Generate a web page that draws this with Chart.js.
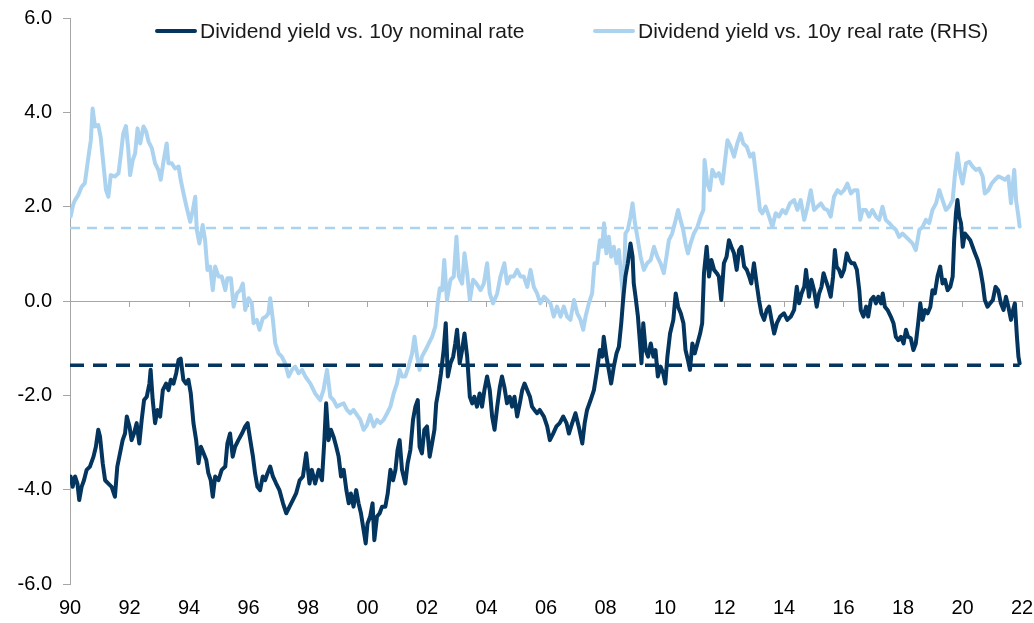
<!DOCTYPE html>
<html>
<head>
<meta charset="utf-8">
<script src="https://cdn.jsdelivr.net/npm/chart.js@4.4.1/dist/chart.umd.min.js"></script>
<style>
  body { margin: 0; background: #fff; }
  #wrap { position: relative; width: 1034px; height: 623px; }
  .leg { position: absolute; top: 18px; height: 26px; display: flex; align-items: center;
         font-family: "Liberation Sans", Arial, sans-serif; font-size: 21px; color: #1a1a1a; white-space: nowrap; }
  .leg i { display: inline-block; width: 42px; height: 4px; border-radius: 2px; margin-right: 3px; }
</style>
</head>
<body>
<div id="wrap">
  <canvas id="myChart"></canvas>
  <div class="leg" style="left:155px"><i style="background:#03355f"></i>Dividend yield vs. 10y nominal rate</div>
  <div class="leg" style="left:593px"><i style="background:#abd3f0"></i>Dividend yield vs. 10y real rate (RHS)</div>
</div>
<script>
// years (decimal) and values
const nomYears = [
1990.02,1990.09,1990.17,1990.25,1990.31,1990.39,1990.47,1990.56,1990.67,1990.79,1990.87,1990.95,1991.01,1991.10,1991.18,1991.29,1991.40,1991.51,1991.59,1991.68,
1991.77,1991.85,1991.91,1992.00,1992.07,1992.15,1992.24,1992.33,1992.41,1992.49,1992.58,1992.67,1992.71,1992.78,1992.86,1992.94,1993.03,1993.12,1993.23,1993.31,
1993.39,1993.48,1993.57,1993.65,1993.72,1993.81,1993.90,1993.98,1994.06,1994.15,1994.24,1994.32,1994.40,1994.49,1994.58,1994.65,1994.73,1994.80,1994.88,1994.99,
1995.10,1995.22,1995.29,1995.38,1995.47,1995.55,1995.66,1995.78,1995.89,1995.97,1996.06,1996.15,1996.22,1996.30,1996.39,1996.48,1996.56,1996.64,1996.73,1996.82,
1996.93,1997.04,1997.16,1997.27,1997.38,1997.49,1997.60,1997.72,1997.83,1997.94,
1998.05,1998.13,1998.24,1998.36,1998.47,1998.55,1998.61,1998.69,1998.77,1998.86,1998.95,1999.03,1999.11,1999.20,1999.29,1999.37,1999.44,1999.53,1999.62,1999.70,
1999.78,1999.87,1999.94,2000.00,2000.09,2000.17,2000.23,2000.32,2000.41,2000.49,2000.60,2000.68,2000.77,2000.86,2000.94,2001.01,2001.08,2001.16,2001.27,2001.35,
2001.44,2001.53,2001.61,2001.69,2001.75,2001.83,2001.91,2002.00,2002.09,2002.17,2002.25,2002.31,2002.39,2002.47,2002.56,2002.63,2002.70,2002.79,2002.88,2002.95,
2003.01,2003.10,2003.18,2003.26,2003.35,2003.44,2003.52,2003.59,2003.68,2003.77,2003.85,2003.93,2004.02,2004.11,2004.19,2004.27,2004.36,2004.45,2004.52,2004.60,
2004.69,2004.78,2004.86,2004.94,2005.03,2005.12,2005.20,2005.28,2005.37,2005.46,2005.53,2005.61,2005.70,2005.79,
2005.93,2006.04,2006.13,2006.24,2006.35,2006.46,2006.58,2006.69,2006.77,2006.88,2006.99,2007.10,2007.22,2007.30,2007.38,2007.50,2007.61,2007.70,2007.81,2007.89,
2007.94,2008.03,2008.11,2008.19,2008.28,2008.37,2008.45,2008.53,2008.60,2008.67,2008.75,2008.84,2008.91,2008.95,2009.01,2009.09,2009.16,2009.21,2009.27,2009.35,
2009.43,2009.52,2009.61,2009.68,2009.76,2009.85,2009.94,2010.01,2010.08,2010.17,2010.28,2010.36,2010.44,2010.53,2010.62,2010.69,2010.77,2010.84,2010.92,2011.00,
2011.09,2011.18,2011.25,2011.31,2011.40,2011.48,2011.56,2011.65,2011.74,2011.81,2011.89,2011.98,2012.07,2012.15,2012.23,2012.32,2012.41,2012.49,2012.57,2012.66,
2012.75,2012.83,2012.90,2012.99,2013.08,2013.16,2013.24,2013.33,2013.42,2013.50,2013.58,2013.67,2013.76,2013.87,
2014.00,2014.11,2014.23,2014.34,2014.43,2014.51,2014.59,2014.68,2014.74,2014.84,2014.92,2015.01,2015.10,2015.18,2015.26,2015.33,2015.40,2015.48,2015.57,2015.65,
2015.71,2015.77,2015.85,2015.93,2016.02,2016.11,2016.19,2016.27,2016.36,2016.45,2016.53,2016.58,2016.67,2016.76,2016.83,2016.92,2017.01,2017.09,2017.17,2017.26,
2017.32,2017.39,2017.48,2017.59,2017.68,2017.76,2017.84,2017.93,2018.02,2018.10,2018.17,2018.26,2018.35,2018.43,2018.51,2018.58,2018.66,2018.74,2018.83,2018.92,
2018.99,2019.07,2019.16,2019.25,2019.33,2019.41,2019.50,2019.59,2019.67,2019.72,2019.78,2019.83,2019.89,2019.95,2020.01,2020.08,2020.17,2020.26,2020.34,2020.42,
2020.51,2020.60,2020.68,2020.75,2020.84,2020.93,2021.02,2021.11,2021.20,2021.29,2021.38,2021.46,2021.54,2021.63,2021.70,2021.76,2021.83,2021.88,2021.92
];
const nomVals = [
-3.72,-3.94,-3.72,-3.87,-4.22,-3.94,-3.80,-3.58,-3.51,-3.30,-3.09,-2.73,-2.88,-3.44,-3.80,-3.87,-3.94,-4.15,-3.51,-3.23,
-2.95,-2.81,-2.45,-2.66,-2.95,-2.81,-2.59,-3.02,-2.52,-2.10,-2.03,-1.75,-1.46,-2.10,-2.59,-2.31,-2.45,-1.89,-1.75,-1.89,
-1.67,-1.75,-1.53,-1.25,-1.22,-1.67,-1.75,-1.67,-1.96,-2.59,-2.95,-3.44,-3.09,-3.23,-3.37,-3.65,-3.80,-4.15,-3.72,-3.80,
-3.58,-3.51,-3.02,-2.81,-3.30,-3.09,-2.95,-2.81,-2.66,-2.59,-2.95,-3.30,-3.65,-3.94,-4.01,-3.72,-3.80,-3.65,-3.51,-3.72,
-3.87,-4.01,-4.29,-4.50,-4.36,-4.22,-4.08,-3.80,-3.72,-3.23,
-3.87,-3.58,-3.87,-3.58,-3.80,-2.95,-2.17,-2.95,-2.73,-2.88,-3.09,-3.30,-3.72,-3.58,-4.01,-4.29,-4.08,-4.36,-4.01,-4.29,
-4.50,-4.86,-5.14,-4.72,-4.57,-4.29,-5.07,-4.57,-4.50,-4.36,-4.36,-4.08,-3.58,-3.80,-3.58,-3.16,-2.95,-3.58,-3.87,-3.44,
-3.16,-2.52,-2.24,-2.10,-3.09,-3.23,-2.73,-2.66,-3.30,-3.02,-2.73,-2.17,-1.89,-1.53,-1.04,-0.47,-1.60,-1.32,-1.18,-0.90,
-0.61,-1.32,-1.04,-0.69,-1.18,-2.03,-2.17,-2.03,-2.24,-1.96,-2.24,-1.89,-1.60,-1.89,-2.45,-2.73,-2.24,-1.82,-1.60,-1.82,
-2.17,-2.03,-2.24,-2.03,-2.45,-2.17,-1.89,-1.75,-1.89,-2.03,-2.24,-2.31,-2.38,-2.31,
-2.45,-2.66,-2.95,-2.81,-2.66,-2.59,-2.45,-2.59,-2.81,-2.59,-2.38,-2.66,-3.02,-2.59,-2.31,-2.10,-1.89,-1.53,-1.04,-1.18,
-0.76,-1.18,-1.46,-1.75,-1.39,-1.11,-0.97,-0.47,0.09,0.52,0.80,1.22,0.94,0.37,0.09,-0.33,-0.90,-1.32,-0.47,-1.04,
-1.18,-0.90,-1.18,-1.04,-1.60,-1.39,-1.53,-1.75,-1.18,-0.69,-0.40,0.16,-0.12,-0.26,-0.47,-1.04,-1.25,-1.46,-0.90,-1.11,
-0.90,-0.69,-0.47,0.59,1.15,0.52,0.87,0.66,0.59,0.52,0.02,0.80,0.94,1.29,1.15,1.01,0.66,1.08,1.15,0.73,
0.66,0.52,0.37,0.80,0.37,0.02,-0.26,-0.40,-0.19,-0.12,-0.40,-0.69,-0.47,-0.33,
-0.26,-0.40,-0.33,-0.19,0.30,-0.05,0.16,0.30,0.66,0.09,0.45,0.23,-0.12,0.16,0.30,0.59,0.45,0.30,0.09,0.52,
1.08,0.73,0.66,0.52,0.66,1.01,0.87,0.80,0.80,0.66,0.23,-0.19,-0.33,-0.12,-0.33,0.02,0.09,-0.05,0.09,-0.05,
0.16,-0.12,-0.19,-0.33,-0.47,-0.76,-0.83,-0.76,-0.90,-0.61,-0.76,-0.79,-1.04,-0.90,-0.47,-0.05,-0.40,-0.19,-0.26,-0.12,
0.23,0.16,0.52,0.73,0.37,0.45,0.23,0.30,0.52,1.29,1.86,2.14,1.79,1.65,1.15,1.43,1.36,1.29,1.15,1.01,
0.87,0.66,0.37,0.02,-0.12,-0.05,0.02,0.30,0.23,-0.05,-0.19,0.09,-0.12,-0.40,-0.19,-0.05,-0.76,-1.18,-1.32
];

const realYears = [
1990.02,1990.11,1990.17,1990.28,1990.39,1990.50,1990.62,1990.70,1990.76,1990.84,1990.95,1991.03,1991.12,1991.21,1991.29,1991.37,1991.51,1991.63,1991.70,1991.79,
1991.88,1991.96,1992.02,1992.11,1992.19,1992.27,1992.36,1992.47,1992.56,1992.64,1992.75,1992.86,1992.97,1993.05,1993.14,1993.25,1993.31,1993.42,1993.53,1993.65,
1993.72,1993.84,1993.93,1994.04,1994.13,1994.21,1994.26,1994.35,1994.46,1994.54,1994.62,1994.71,1994.80,1994.88,1994.99,1995.10,1995.22,1995.29,1995.41,1995.50,
1995.61,1995.72,1995.81,1995.89,1996.00,1996.11,1996.17,1996.28,1996.37,1996.48,1996.59,1996.67,1996.73,1996.82,1996.90,1997.01,1997.12,1997.23,1997.35,1997.46,
1997.57,1997.68,1997.80,1997.91,
1998.08,1998.24,1998.41,1998.52,1998.64,1998.75,1998.86,1998.97,1999.08,1999.20,1999.31,1999.42,1999.53,1999.65,1999.76,1999.87,1999.98,2000.09,2000.21,2000.32,
2000.43,2000.54,2000.66,2000.77,2000.88,2000.99,2001.08,2001.16,2001.27,2001.38,2001.50,2001.58,2001.67,2001.75,2001.83,2001.95,2002.06,2002.17,2002.28,2002.36,
2002.43,2002.51,2002.58,2002.67,2002.79,2002.90,2002.99,2003.07,2003.18,2003.26,2003.35,2003.44,2003.55,2003.66,2003.80,2003.91,2004.02,2004.11,2004.22,2004.36,
2004.47,2004.60,2004.69,2004.80,2004.92,2005.03,2005.14,2005.25,2005.37,2005.48,2005.59,2005.70,2005.81,2005.93,
2006.15,2006.26,2006.37,2006.49,2006.60,2006.71,2006.82,2006.94,2007.05,2007.16,2007.25,2007.33,2007.44,2007.55,2007.63,2007.72,2007.81,2007.89,2007.95,2008.03,
2008.11,2008.19,2008.28,2008.37,2008.45,2008.53,2008.60,2008.67,2008.75,2008.84,2008.91,2008.99,2009.07,2009.18,2009.29,2009.40,2009.52,2009.63,2009.74,2009.85,
2009.96,2010.05,2010.13,2010.24,2010.36,2010.44,2010.52,2010.61,2010.69,2010.77,2010.86,2010.97,2011.09,2011.20,2011.29,2011.33,2011.42,2011.51,2011.59,2011.70,
2011.81,2011.93,2012.02,2012.10,2012.21,2012.32,2012.43,2012.54,2012.63,2012.75,2012.86,2012.97,2013.05,2013.13,2013.19,2013.27,2013.38,2013.50,2013.61,2013.72,
2013.83,2013.95,2014.06,2014.20,
2014.34,2014.45,2014.56,2014.68,2014.79,2014.90,2015.01,2015.12,2015.24,2015.35,2015.46,2015.57,2015.68,2015.80,2015.91,2016.02,2016.13,2016.25,2016.36,2016.47,
2016.56,2016.64,2016.75,2016.86,2016.97,2017.09,2017.20,2017.31,2017.42,2017.54,2017.65,2017.76,2017.87,2017.98,2018.10,2018.21,2018.32,2018.43,2018.55,2018.66,
2018.77,2018.88,2018.99,2019.11,2019.22,2019.33,2019.44,2019.55,2019.67,2019.74,2019.83,2019.92,2020.00,2020.12,2020.23,2020.34,2020.45,2020.56,2020.68,2020.75,
2020.87,2020.98,2021.09,2021.20,2021.32,2021.43,2021.54,2021.63,2021.74,2021.80,2021.88,2021.92
];
const realVals = [
1.79,2.05,2.14,2.25,2.42,2.50,3.06,3.41,4.08,3.70,3.73,3.48,2.92,2.35,2.21,2.67,2.64,2.71,3.06,3.55,
3.71,3.20,2.67,2.99,3.13,3.66,3.34,3.70,3.59,3.38,3.24,2.92,2.78,2.57,2.95,3.34,2.92,2.92,2.81,2.85,
2.57,2.21,1.96,1.68,1.93,2.21,1.51,1.22,1.61,1.29,0.66,0.73,0.23,0.73,0.52,0.52,0.23,0.48,0.48,-0.12,
0.16,0.23,0.37,-0.19,0.06,-0.05,-0.47,-0.40,-0.61,-0.37,-0.33,-0.26,0.06,-0.40,-0.90,-1.11,-1.18,-1.32,-1.60,-1.46,
-1.39,-1.53,-1.46,-1.60,
-1.75,-1.96,-2.10,-1.89,-1.46,-2.03,-2.10,-2.24,-2.20,-2.17,-2.31,-2.38,-2.31,-2.42,-2.52,-2.73,-2.63,-2.42,-2.66,-2.52,
-2.59,-2.52,-2.38,-2.24,-1.96,-1.75,-1.46,-1.60,-1.60,-1.39,-1.11,-0.76,-1.18,-1.46,-1.18,-1.04,-0.90,-0.76,-0.54,-0.05,
0.27,0.23,0.87,0.02,0.45,0.52,1.36,0.52,0.37,1.01,0.59,0.02,0.45,0.37,0.23,0.37,0.80,0.16,-0.05,0.16,
0.52,0.80,0.37,0.52,0.52,0.66,0.52,0.52,0.30,0.66,0.30,0.16,-0.05,0.09,
-0.05,-0.33,-0.12,-0.33,-0.12,-0.33,-0.40,0.02,-0.26,-0.40,-0.61,-0.33,-0.05,0.16,0.80,0.80,1.29,1.15,1.65,1.01,
1.36,0.94,1.15,0.80,1.08,0.52,0.02,1.43,1.51,1.79,2.07,1.65,1.36,0.94,0.66,0.80,0.87,1.15,0.94,0.80,
0.59,0.94,1.29,1.43,1.72,1.93,1.72,1.51,1.22,1.01,1.22,1.43,1.57,1.79,1.93,2.99,2.49,2.35,2.78,2.64,
2.71,2.49,2.99,3.41,3.27,3.06,3.34,3.55,3.34,3.27,3.06,3.13,2.71,2.28,1.93,1.86,2.00,1.79,1.57,1.86,
1.79,1.93,1.86,2.07,
2.14,1.93,2.14,1.72,2.00,2.35,1.93,2.00,2.07,1.96,1.93,1.79,2.21,2.35,2.28,2.35,2.49,2.28,2.35,2.35,
1.72,1.93,1.93,1.79,1.93,1.79,1.72,2.00,1.72,1.65,1.57,1.51,1.36,1.43,1.36,1.29,1.22,1.08,1.51,1.57,
1.72,1.65,1.93,2.07,2.35,2.14,1.93,2.00,2.14,2.64,3.13,2.71,2.49,2.92,2.95,2.85,2.78,2.81,2.64,2.28,
2.35,2.49,2.57,2.64,2.61,2.57,2.64,2.07,2.78,2.14,1.79,1.58
];

// long-run averages (dashed lines)
const avgYears = [1990, 2021.92];
const nomAvg = -1.36;
const realAvg = 1.55;

const yTicks = [-6, -4, -2, 0, 2, 4, 6];

const darkBlue = '#03355f';
const lightBlue = '#abd3f0';
const axisGrey = '#a6a6a6';

function pts(xs, ys) {
  return xs.map(function(x, i) { return { x: x, y: ys[i] }; });
}

// no extra label padding, so the plot box sits where the layout padding puts it
function noPad(s) {
  s.paddingTop = 0; s.paddingBottom = 0; s.paddingLeft = 0; s.paddingRight = 0;
}

const data = {
  datasets: [
    {
      label: 'nominal avg',
      data: avgYears.map(function(x) { return { x: x, y: nomAvg }; }),
      borderColor: darkBlue, borderWidth: 3.5, borderDash: [14, 9], pointRadius: 0
    },
    {
      label: 'Dividend yield vs. 10y nominal rate',
      data: pts(nomYears, nomVals),
      borderColor: darkBlue, backgroundColor: darkBlue, borderWidth: 4, pointRadius: 0,
      borderJoinStyle: 'round', borderCapStyle: 'round'
    },
    {
      label: 'real avg',
      data: avgYears.map(function(x) { return { x: x, y: realAvg }; }),
      borderColor: lightBlue, borderWidth: 2.5, borderDash: [10, 7], pointRadius: 0
    },
    {
      label: 'Dividend yield vs. 10y real rate (RHS)',
      data: pts(realYears, realVals),
      borderColor: lightBlue, backgroundColor: lightBlue, borderWidth: 4, pointRadius: 0,
      borderJoinStyle: 'round', borderCapStyle: 'round'
    }
  ]
};

function createAPlot() {
  const cv = document.getElementById('myChart');
  cv.width = 1034; cv.height = 623;
  cv.style.width = '1034px'; cv.style.height = '623px';
  let ctx = cv.getContext('2d');
  new Chart(ctx, {
    type: 'line',
    data: data,
    options: {
      responsive: false,
      animation: false,
      layout: { padding: { top: 18, right: 12, left: 0, bottom: 0 } },
      plugins: { legend: { display: false }, tooltip: { enabled: false } },
      elements: { line: { tension: 0 } },
      scales: {
        x: {
          type: 'linear', position: 'bottom', min: 1990, max: 2022,
          grid: { display: false, drawTicks: false },
          border: { display: false },
          afterFit: function(s) { s.height = 39; noPad(s); },
          ticks: {
            stepSize: 2, padding: 12, color: '#000',
            font: { family: 'Liberation Sans, Arial', size: 20 },
            maxRotation: 0, autoSkip: false,
            callback: function(v) { return String(v % 100).padStart(2, '0'); }
          }
        },
        x2: {
          type: 'linear', axis: 'x', position: { y: 0 }, min: 1990, max: 2022,
          afterFit: noPad,
          grid: { drawOnChartArea: false, drawTicks: true, tickLength: 5, color: axisGrey },
          border: { color: axisGrey, width: 1 },
          ticks: { stepSize: 2, display: false }
        },
        y: {
          type: 'linear', position: 'left', min: -6, max: 6,
          afterFit: function(s) { s.width = 70; noPad(s); },
          afterBuildTicks: function(s) { s.ticks = yTicks.map(function(v) { return { value: v }; }); },
          grid: { drawOnChartArea: false, drawTicks: true, tickLength: 7, color: axisGrey },
          border: { color: axisGrey, width: 1 },
          ticks: {
            padding: 11, color: '#000',
            font: { family: 'Liberation Sans, Arial', size: 20 },
            callback: function(v) { return v.toFixed(1); }
          }
        }
      }
    }
  });
}
createAPlot();
</script>
</body>
</html>
